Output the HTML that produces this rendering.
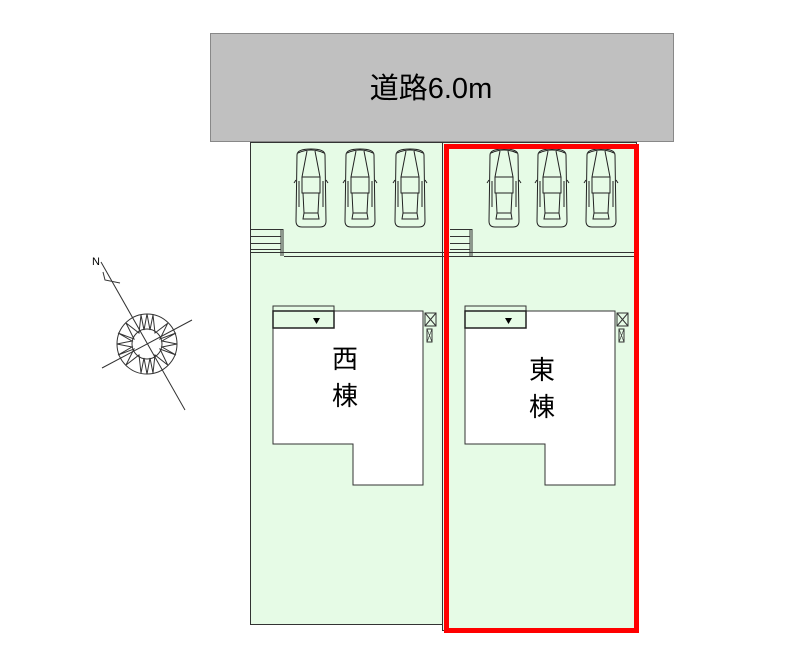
<!DOCTYPE html>
<html><head><meta charset="utf-8"><style>body{margin:0;background:#fff}svg{display:block}</style></head><body>
<svg width="806" height="659" viewBox="0 0 806 659" xmlns="http://www.w3.org/2000/svg">
<defs>
<g id="car" fill="none" stroke="#222" stroke-width="1">
<path d="M4 8 Q4 2 18 2 Q32 2 32 8 L33 74 Q33 80 27 80 L9 80 Q3 80 3 74 Z"/>
<path d="M5 6 Q18 0 31 6"/>
<path d="M14 4 L9 30 L27 30 L22 4"/>
<path d="M9 30 L9 46 L27 46 L27 30"/>
<path d="M10 46 L11 66 L25 66 L26 46"/>
<path d="M11 66 L10 72 L26 72 L25 66"/>
<path d="M3 33 L1 36 M33 33 L35 36 M6 34 L6 60 M30 34 L30 60"/>
</g>
<g id="house">
<path d="M0 0 H150 V174 H80 V133 H0 Z" fill="#fff" stroke="#333"/>
<rect x="0" y="-5" width="61" height="5" fill="#e6fbe6" stroke="#333"/>
<rect x="0" y="0" width="61" height="17" fill="#e6fbe6" stroke="#222" stroke-width="1.5"/>
<path d="M40 7 h7 l-3.5 6 z" fill="#000"/>
<rect x="152" y="2" width="11" height="13" fill="none" stroke="#333"/>
<path d="M152 2 l11 13 M163 2 l-11 13" stroke="#333"/>
<rect x="154" y="18" width="5" height="13" fill="none" stroke="#333"/>
<path d="M154 18 l5 13 M159 18 l-5 13" stroke="#333" stroke-width=".6"/>
</g>
</defs>
<rect x="210.5" y="33.5" width="463" height="108" fill="#c0c0c0" stroke="#888"/>
<text x="431" y="98" font-family="Liberation Sans,'Noto Sans CJK JP',sans-serif" font-size="29" text-anchor="middle">道路6.0m</text>
<rect x="250.5" y="142.5" width="192" height="482" fill="#e6fbe6" stroke="#333"/>
<rect x="442.5" y="142.5" width="194" height="488" fill="#e6fbe6" stroke="#333"/>
<path d="M250 252.5 H636 M284 256.5 H636" stroke="#333"/>
<path d="M450 252.5 H636" stroke="#333"/>
<g stroke="#333" fill="none">
<path d="M250 229.5 H283 V256 M283 229.5 M250 236.5 H281 M250 243.5 H281 M250 249.5 H281 M281 229 V256"/>
<path d="M450 229.5 H472 V256 M450 236.5 H470 M450 243.5 H470 M450 249.5 H470 M470 229 V256"/>
</g>
<use href="#car" x="293" y="147"/><use href="#car" x="342" y="147"/><use href="#car" x="392" y="147"/>
<use href="#car" x="486" y="147"/><use href="#car" x="534" y="147"/><use href="#car" x="583" y="147"/>
<use href="#house" x="273" y="311"/>
<use href="#house" x="465" y="311"/>
<g font-family="Liberation Sans,'Noto Sans CJK JP',sans-serif" font-size="26" text-anchor="middle">
<text x="345" y="368">西</text><text x="345" y="405">棟</text>
<text x="542" y="379">東</text><text x="542" y="416">棟</text>
</g>
<rect x="446.5" y="146.5" width="190" height="484" fill="none" stroke="#f00" stroke-width="5"/>
<g stroke="#333" fill="none" stroke-width="1">
<circle cx="147" cy="344" r="30"/>
<circle cx="147" cy="344" r="15"/>
<path d="M101 262 L185 410 M102 368 L192 320 M103 272 L105 280 L120 283"/>
<path d="M167.7 323.3 L160 339 L176 333 L162 341 L177 344 L162 347 L176 355 L160 349 L167.7 365 L155 355 L153 373 L150 358 L147 374 L144 358 L141 373 L139 355 L126 365 L134 349 L118 355 L132 347 L117 344 L132 341 L118 333 L134 339 L126 323 L139 333 L141 315 L144 330 L147 314 L150 330 L153 315 L155 333 Z"/>
</g>
<text x="92" y="265" font-family="Liberation Sans,sans-serif" font-size="11">N</text>
</svg>
</body></html>
